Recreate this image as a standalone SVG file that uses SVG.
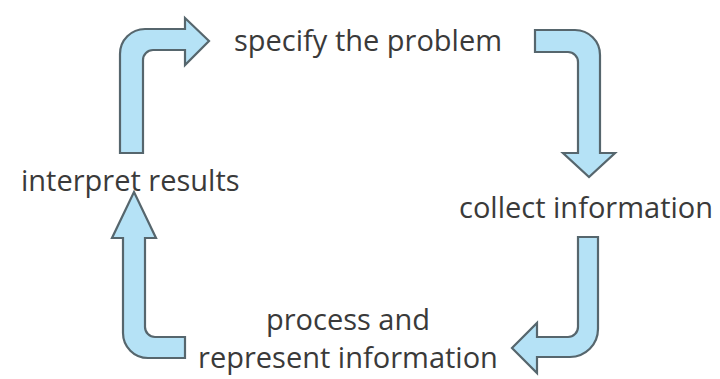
<svg xmlns="http://www.w3.org/2000/svg" width="720" height="379" viewBox="0 0 720 379">
<style>
.arr{fill:#b5e2f6;stroke:#56666d;stroke-width:2.2;stroke-linejoin:miter}
.t{font-family:"Open Sans","Noto Sans",sans-serif;font-size:29px;fill:#3a3a3a}
</style>
<rect width="720" height="379" fill="#fff"/>
<g id="connectors">
<path class="arr" d="M120,153 L120,54 A25,25 0 0 1 145,29 L185,29 L185,18 L209,41 L185,65 L185,50 L153,50 A10,10 0 0 0 143,60 L143,153 Z"/>
<path class="arr" d="M535,30 L575,30 A25,25 0 0 1 600,55 L600,153 L615,153 L589,177 L563,153 L578,153 L578,62 A10,10 0 0 0 568,52 L535,52 Z"/>
<path class="arr" d="M578,237 L598,237 L598,329 A28,28 0 0 1 570,357 L537,357 L537,373 L512,348 L537,323 L537,337 L568,337 A10,10 0 0 0 578,327 Z"/>
<path class="arr" d="M145,238 L145,327 A10,10 0 0 0 155,337 L185,337 L185,358 L148,358 A25,25 0 0 1 123,333 L123,238 L112,238 L134,192 L156,238 Z"/>
</g>
<g id="node-specify"><text class="t" x="234" y="51">specify the problem</text></g>
<g id="node-collect"><text class="t" x="459" y="218">collect information</text></g>
<g id="node-process"><text class="t" x="348" y="330" text-anchor="middle">process and</text><text class="t" x="348" y="368" text-anchor="middle">represent information</text></g>
<g id="node-interpret"><text class="t" x="21" y="191">interpret results</text></g>
</svg>
